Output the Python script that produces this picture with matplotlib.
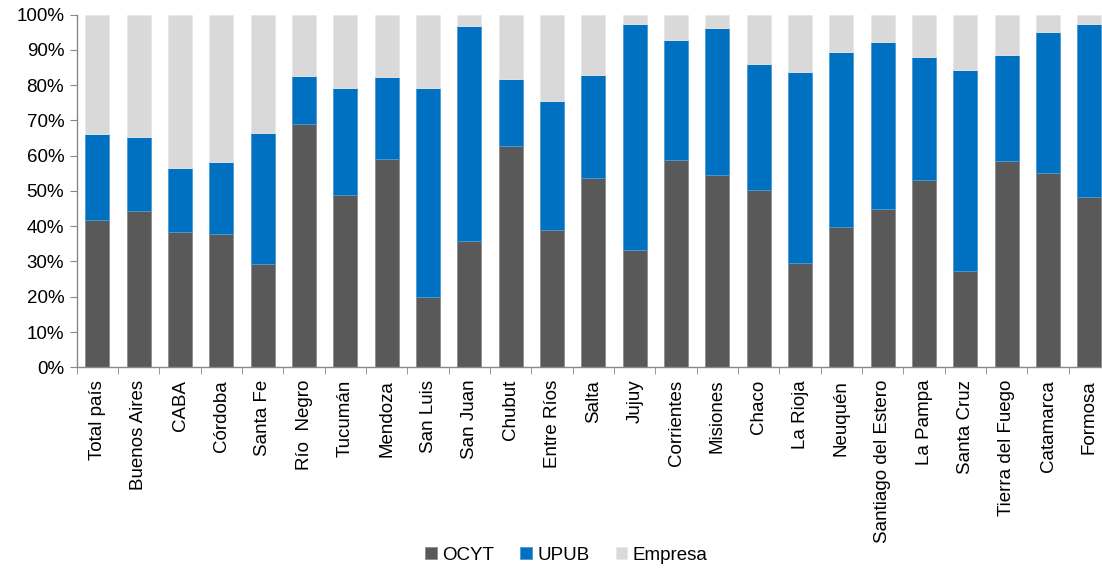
import numpy as np
import matplotlib
matplotlib.use('Agg')
import matplotlib.pyplot as plt
from matplotlib.ticker import PercentFormatter, FixedLocator

plt.rcParams['font.family'] = ['Liberation Sans', 'DejaVu Sans']

provincias = ['Total país', 'Buenos Aires', 'CABA', 'Córdoba', 'Santa Fe', 'Río  Negro',
              'Tucumán', 'Mendoza', 'San Luis', 'San Juan', 'Chubut', 'Entre Ríos', 'Salta',
              'Jujuy', 'Corrientes', 'Misiones', 'Chaco', 'La Rioja', 'Neuquén',
              'Santiago del Estero', 'La Pampa', 'Santa Cruz', 'Tierra del Fuego',
              'Catamarca', 'Formosa']

# OCYT share (%)
ocyt = [41.7, 44.2, 38.3, 37.9, 29.3, 68.9, 48.9, 59.0, 19.8, 35.8, 62.8, 38.9, 53.6,
        33.2, 58.7, 54.5, 50.2, 29.5, 39.8, 44.8, 53.0, 27.2, 58.4, 55.0, 48.2]
# cumulative OCYT + UPUB (%)
ocyt_upub = [66.1, 65.4, 56.5, 58.3, 66.5, 82.6, 79.3, 82.4, 79.3, 96.9, 81.8, 75.6, 82.9,
             97.4, 92.7, 96.2, 85.9, 83.8, 89.3, 92.3, 88.1, 84.3, 88.6, 95.1, 97.4]

ocyt = np.array(ocyt)
upub = np.array(ocyt_upub) - ocyt
empresa = 100 - np.array(ocyt_upub)

fig = plt.figure(figsize=(11.02, 5.70), dpi=100)
ax = fig.add_axes([0.0696, 0.3556, 0.9377, 0.6188])

x = np.arange(len(provincias))
w = 0.58
ax.bar(x, ocyt, w, color='#595959', edgecolor='#8c8c8c', linewidth=0.6, label='OCYT')
ax.bar(x, upub, w, bottom=ocyt, color='#0070C0', edgecolor='#4a9ad6', linewidth=0.6, label='UPUB')
ax.bar(x, empresa, w, bottom=ocyt + upub, color='#D9D9D9', edgecolor='#e8e8e8', linewidth=0.6,
       label='Empresa')

fs = 13.5
ax.set_xlim(-0.5, len(provincias) - 0.5)
ax.set_ylim(0, 100)
ax.set_yticks(np.arange(0, 101, 10))
ax.yaxis.set_major_formatter(PercentFormatter(decimals=0))
ax.set_xticks(x)
ax.set_xticklabels(provincias, rotation=90)
ax.xaxis.set_minor_locator(FixedLocator(np.arange(-0.5, len(provincias), 1)))
ax.tick_params(axis='x', which='major', length=0, pad=9, labelsize=fs)
ax.tick_params(axis='x', which='minor', length=5, color='#888888', direction='out')
ax.tick_params(axis='y', length=5, color='#888888', labelsize=fs, pad=4)

for s in ['top', 'right']:
    ax.spines[s].set_visible(False)
for s in ['left', 'bottom']:
    ax.spines[s].set_color('#888888')
    ax.spines[s].set_linewidth(1)

fig.legend(loc='center', bbox_to_anchor=(0.514, 0.026), ncol=3, frameon=False,
           fontsize=fs, handlelength=0.6, handleheight=0.6, handletextpad=0.3,
           columnspacing=1.4)

fig.savefig('out.png', dpi=100)
